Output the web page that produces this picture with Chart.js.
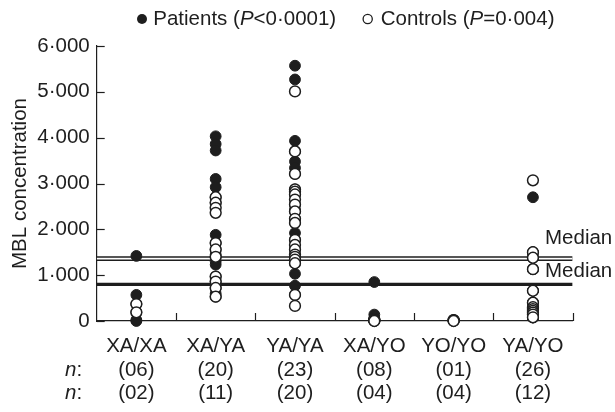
<!DOCTYPE html>
<html><head><meta charset="utf-8">
<script src="https://cdn.jsdelivr.net/npm/chart.js@4.4.1/dist/chart.umd.min.js"></script>
<style>html,body{margin:0;padding:0;background:#fff;}canvas{display:block;}</style>
</head><body>
<canvas id="c" width="615" height="412" style="width:615px;height:412px"></canvas>
<script>
// ---- data ----
const categories = ['XA/XA', 'XA/YA', 'YA/YA', 'XA/YO', 'YO/YO', 'YA/YO'];
const patientsN  = ['06', '20', '23', '08', '01', '26'];
const controlsN  = ['02', '11', '20', '04', '04', '12'];
const yTickLabels = ['0', '1·000', '2·000', '3·000', '4·000', '5·000', '6·000'];
const legendPatients = ['Patients (', 'P', '<0·0001)'];
const legendControls = ['Controls (', 'P', '=0·004)'];

// patients (filled) per genotype
const pXAXA = [1.42, 0.57, 0.37, 0.19, 0.02, 0.0];
const pXAYA = [4.03, 3.86, 3.72, 3.10, 2.92, 2.70, 2.58, 1.88, 1.70, 1.56, 1.45, 1.40, 1.30, 1.23, 0.97, 0.86, 0.80, 0.72, 0.60, 0.53];
const pYAYA = [5.57, 5.27, 3.93, 3.70, 3.48, 3.34, 3.21, 2.87, 2.76, 2.54, 2.43, 2.39, 2.23, 2.14, 1.92, 1.77, 1.56, 1.45, 1.34, 1.26, 1.03, 0.77, 0.57];
const pXAYO = [0.85, 0.14, 0.05, 0.03, 0.02, 0.02, 0.01, 0.0];
const pYOYO = [0.0];
const pYAYO = [2.70, 1.50, 1.38, 1.13, 0.66, 0.40, 0.30, 0.22, 0.14, 0.08, 1.50, 1.38, 1.13, 0.66, 0.40, 0.30, 0.22, 0.14, 0.08, 0.30, 0.22, 0.14, 0.08, 0.22, 0.14, 0.08];
// controls (open) per genotype
const cXAXA = [0.37, 0.19];
const cXAYA = [2.70, 2.58, 2.47, 2.36, 1.70, 1.56, 1.40, 0.97, 0.86, 0.72, 0.53];
const cYAYA = [5.01, 3.70, 3.21, 2.87, 2.82, 2.76, 2.65, 2.54, 2.39, 2.23, 2.14, 1.77, 1.66, 1.56, 1.45, 1.40, 1.34, 1.26, 0.57, 0.33];
const cXAYO = [0.03, 0.02, 0.01, 0.0];
const cYOYO = [0.02, 0.02, 0.01, 0.0];
const cYAYO = [3.07, 1.50, 1.38, 1.13, 0.66, 0.40, 0.30, 0.26, 0.22, 0.18, 0.14, 0.08];

const medianPatients = 0.80;
const medianControls = 1.36;

// ---- build ----
const patientGroups = [pXAXA, pXAYA, pYAYA, pXAYO, pYOYO, pYAYO];
const controlGroups = [cXAXA, cXAYA, cYAYA, cXAYO, cYOYO, cYAYO];
const toPoints = groups => groups.flatMap((arr, i) => arr.map(v => ({x: categories[i], y: v})));

const INK = '#1e1e1e';
const FONT = "'Liberation Sans', Arial, Helvetica, sans-serif";
const FS = 20.5;
const LINE_H = 1.14;
const LABEL_PAD = 14;

const decor = {
  id: 'decor',
  afterDraw(chart) {
    const ctx = chart.ctx;
    const ca = chart.chartArea;
    const xs = chart.scales.x, ys = chart.scales.y;
    ctx.save();
    ctx.strokeStyle = INK;
    ctx.lineWidth = 1.2;
    // inner y ticks
    ys.ticks.forEach(t => {
      const py = Math.round(ys.getPixelForValue(t.value)) + 0.5;
      ctx.beginPath(); ctx.moveTo(ca.left, py); ctx.lineTo(ca.left + 8, py); ctx.stroke();
    });
    // inner x ticks at category boundaries
    for (let i = 0; i < categories.length; i++) {
      const px = i < categories.length - 1
        ? (xs.getPixelForValue(i) + xs.getPixelForValue(i + 1)) / 2
        : ca.right;
      const rx = Math.round(px) + 0.5;
      ctx.beginPath(); ctx.moveTo(rx, ca.bottom); ctx.lineTo(rx, ca.bottom - 8); ctx.stroke();
    }
    ctx.fillStyle = INK;
    ctx.textBaseline = 'middle';
    ctx.textAlign = 'left';
    // "n:" row labels
    const lh = FS * LINE_H;
    [1, 2].forEach(r => {
      const y = xs.top + LABEL_PAD + lh / 2 + r * lh;
      ctx.font = `italic ${FS}px ${FONT}`;
      ctx.fillText('n', 65, y);
      const w = ctx.measureText('n').width;
      ctx.font = `${FS}px ${FONT}`;
      ctx.fillText(':', 65 + w, y);
    });
    // Median labels
    ctx.font = `${FS}px ${FONT}`;
    ctx.fillText('Median', 545, ys.getPixelForValue(medianControls) - 20);
    ctx.fillText('Median', 545, ys.getPixelForValue(medianPatients) - 12.5);
    // legend
    const drawParts = (parts, x, y) => {
      parts.forEach((p, k) => {
        ctx.font = (k === 1 ? 'italic ' : '') + `${FS}px ${FONT}`;
        ctx.fillText(p, x, y);
        x += ctx.measureText(p).width;
      });
    };
    const ly = 19;
    ctx.beginPath(); ctx.arc(142, ly, 5, 0, Math.PI * 2); ctx.fill();
    drawParts(legendPatients, 153.3, ly);
    ctx.beginPath(); ctx.arc(367.7, ly, 4.6, 0, Math.PI * 2);
    ctx.fillStyle = '#fff'; ctx.fill(); ctx.lineWidth = 1.3; ctx.stroke();
    ctx.fillStyle = INK;
    drawParts(legendControls, 380.7, ly);
    ctx.restore();
  }
};

new Chart(document.getElementById('c'), {
  type: 'scatter',
  data: {
    datasets: [
      { label: 'Controls', data: toPoints(controlGroups), order: 1, clip: false,
        pointRadius: 5.4, pointBackgroundColor: '#fff', pointBorderColor: INK, pointBorderWidth: 1.5 },
      { label: 'Patients', data: toPoints(patientGroups), order: 2, clip: false,
        pointRadius: 5.4, pointBackgroundColor: INK, pointBorderColor: INK, pointBorderWidth: 1 },
      { type: 'line', label: 'Median controls (inner)', xAxisID: 'xl', order: 3,
        data: [{x: 0, y: medianControls}, {x: 1, y: medianControls}],
        borderColor: '#fff', borderWidth: 1.8, pointRadius: 0 },
      { type: 'line', label: 'Median controls', xAxisID: 'xl', order: 4,
        data: [{x: 0, y: medianControls}, {x: 1, y: medianControls}],
        borderColor: INK, borderWidth: 4.6, pointRadius: 0 },
      { type: 'line', label: 'Median patients', xAxisID: 'xl', order: 4,
        data: [{x: 0, y: medianPatients}, {x: 1, y: medianPatients}],
        borderColor: INK, borderWidth: 3.2, pointRadius: 0 }
    ]
  },
  options: {
    responsive: false,
    animation: false,
    events: [],
    devicePixelRatio: 1,
    layout: { padding: { top: 46, right: 42.4, left: 0, bottom: 0 } },
    plugins: { legend: { display: false }, tooltip: { enabled: false } },
    scales: {
      x: {
        type: 'category',
        labels: categories,
        offset: true,
        grid: { display: false, drawTicks: false },
        border: { display: true, color: INK, width: 1.2 },
        ticks: {
          color: INK, padding: LABEL_PAD, maxRotation: 0, autoSkip: false,
          font: { family: FONT, size: FS, lineHeight: LINE_H },
          callback: (v, i) => [categories[i], '(' + patientsN[i] + ')', '(' + controlsN[i] + ')']
        },
        afterFit: s => { s.height = 91; }
      },
      xl: { type: 'linear', display: false, min: 0, max: 1 },
      y: {
        min: 0, max: 6,
        grid: { display: false, drawTicks: false },
        border: { display: true, color: INK, width: 1.2 },
        ticks: {
          stepSize: 1, color: INK, padding: 7,
          font: { family: FONT, size: FS },
          callback: (v, i) => yTickLabels[i]
        },
        title: { display: true, text: 'MBL concentration', color: INK,
                 font: { family: FONT, size: FS }, padding: { top: 8, bottom: 0 } },
        afterFit: s => { s.width = 96.7; }
      }
    }
  },
  plugins: [decor]
});
</script>
</body></html>
